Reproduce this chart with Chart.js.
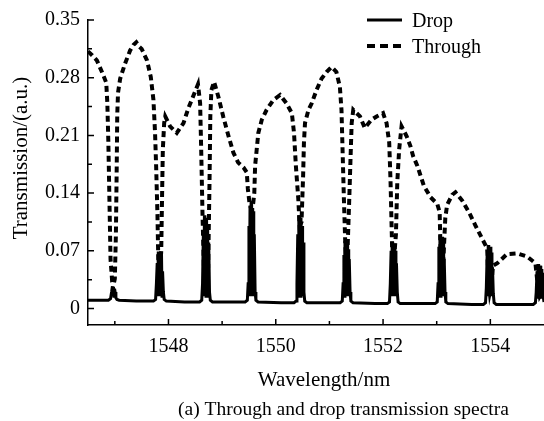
<!DOCTYPE html>
<html>
<head>
<meta charset="utf-8">
<script src="https://cdn.jsdelivr.net/npm/chart.js@4.4.1/dist/chart.umd.min.js"></script>
<style>
  html, body { margin: 0; padding: 0; background: #fff; }
  canvas { display: block; }
</style>
</head>
<body>
<canvas id="spectra" width="544" height="421"></canvas>
<script>
// tick values
const xTicks = [1548, 1550, 1552, 1554];
const xMinorTicks = [1547, 1549, 1551, 1553];
const yTicks = [0, 0.07, 0.14, 0.21, 0.28, 0.35];
const yMinorTicks = [0.035, 0.105, 0.175, 0.245, 0.315];

// drop port (solid); the noisy peak tops are kept as zigzags
const dropWavelength = [
  1546.50, 1546.70,
  1546.88, 1546.92, 1546.94, 1546.955, 1546.965, 1546.975, 1546.985, 1546.995, 1547.005, 1547.02, 1547.04, 1547.08,
  1547.40,
  1547.72, 1547.76, 1547.775, 1547.79, 1547.80, 1547.81, 1547.82, 1547.83, 1547.84, 1547.85, 1547.86, 1547.87, 1547.88, 1547.89, 1547.905, 1547.92, 1547.96,
  1548.30,
  1548.58, 1548.62, 1548.635, 1548.65, 1548.66, 1548.67, 1548.68, 1548.69, 1548.70, 1548.71, 1548.72, 1548.73, 1548.74, 1548.75, 1548.765, 1548.78, 1548.82,
  1549.20,
  1549.43, 1549.47, 1549.485, 1549.50, 1549.51, 1549.52, 1549.53, 1549.54, 1549.55, 1549.56, 1549.57, 1549.58, 1549.59, 1549.60, 1549.615, 1549.63, 1549.67,
  1550.10,
  1550.34, 1550.38, 1550.395, 1550.41, 1550.42, 1550.43, 1550.44, 1550.45, 1550.46, 1550.47, 1550.48, 1550.49, 1550.50, 1550.51, 1550.525, 1550.54, 1550.58,
  1551.00,
  1551.20, 1551.24, 1551.255, 1551.27, 1551.28, 1551.29, 1551.30, 1551.31, 1551.32, 1551.33, 1551.34, 1551.35, 1551.36, 1551.37, 1551.385, 1551.40, 1551.44,
  1551.85,
  1552.08, 1552.12, 1552.135, 1552.15, 1552.16, 1552.17, 1552.18, 1552.19, 1552.20, 1552.21, 1552.22, 1552.23, 1552.24, 1552.25, 1552.265, 1552.28, 1552.32,
  1552.75,
  1552.97, 1553.01, 1553.025, 1553.04, 1553.05, 1553.06, 1553.07, 1553.08, 1553.09, 1553.10, 1553.11, 1553.12, 1553.13, 1553.14, 1553.155, 1553.17, 1553.21,
  1553.65,
  1553.87, 1553.91, 1553.925, 1553.94, 1553.95, 1553.96, 1553.97, 1553.98, 1553.99, 1554.00, 1554.01, 1554.02, 1554.03, 1554.04, 1554.055, 1554.07, 1554.11,
  1554.55,
  1554.80, 1554.84, 1554.855, 1554.87, 1554.88, 1554.89, 1554.90, 1554.91, 1554.92, 1554.93, 1554.94, 1554.95, 1554.96, 1554.97, 1554.985, 1555.00
];
const dropValue = [
  0.010, 0.010,
  0.010, 0.012, 0.020, 0.027, 0.016, 0.026, 0.015, 0.024, 0.020, 0.013, 0.011, 0.010,
  0.009,
  0.009, 0.011, 0.030, 0.055, 0.015, 0.069, 0.015, 0.064, 0.015, 0.060, 0.015, 0.066, 0.015, 0.045, 0.020, 0.011, 0.009,
  0.008,
  0.008, 0.010, 0.030, 0.090, 0.015, 0.113, 0.015, 0.105, 0.015, 0.110, 0.015, 0.100, 0.015, 0.080, 0.020, 0.010, 0.008,
  0.008,
  0.008, 0.010, 0.030, 0.100, 0.015, 0.125, 0.015, 0.130, 0.015, 0.122, 0.015, 0.118, 0.015, 0.090, 0.020, 0.010, 0.008,
  0.007,
  0.007, 0.009, 0.030, 0.090, 0.015, 0.113, 0.015, 0.108, 0.015, 0.110, 0.015, 0.100, 0.015, 0.080, 0.020, 0.009, 0.007,
  0.007,
  0.007, 0.009, 0.030, 0.065, 0.015, 0.082, 0.015, 0.078, 0.015, 0.080, 0.015, 0.072, 0.015, 0.060, 0.020, 0.009, 0.007,
  0.006,
  0.006, 0.008, 0.030, 0.070, 0.015, 0.081, 0.015, 0.077, 0.015, 0.079, 0.015, 0.070, 0.015, 0.055, 0.020, 0.008, 0.006,
  0.006,
  0.006, 0.008, 0.030, 0.075, 0.015, 0.089, 0.015, 0.085, 0.015, 0.087, 0.015, 0.080, 0.015, 0.060, 0.020, 0.008, 0.006,
  0.005,
  0.005, 0.007, 0.025, 0.065, 0.015, 0.077, 0.015, 0.073, 0.015, 0.075, 0.015, 0.068, 0.015, 0.050, 0.018, 0.007, 0.005,
  0.005,
  0.005, 0.007, 0.020, 0.045, 0.012, 0.054, 0.012, 0.050, 0.012, 0.052, 0.012, 0.048, 0.012, 0.040, 0.015, 0.008
];

// through port (dashed)
const throughWavelength = [
  1546.50, 1546.58, 1546.665, 1546.76, 1546.84, 1546.86, 1546.88, 1546.90, 1546.92, 1546.95, 1546.98, 1547.00,
  1547.02, 1547.035, 1547.045, 1547.06, 1547.10, 1547.19, 1547.285, 1547.35, 1547.40, 1547.45, 1547.50, 1547.60,
  1547.67, 1547.72, 1547.75, 1547.77, 1547.795, 1547.81, 1547.84, 1547.865, 1547.875, 1547.895, 1547.92, 1547.94,
  1548.03, 1548.155, 1548.28, 1548.37, 1548.47, 1548.55, 1548.59, 1548.61, 1548.635, 1548.66, 1548.70, 1548.74,
  1548.765, 1548.78, 1548.80, 1548.85, 1548.93, 1549.02, 1549.12, 1549.21, 1549.30, 1549.40, 1549.46, 1549.48,
  1549.51, 1549.545, 1549.58, 1549.60, 1549.615, 1549.645, 1549.675, 1549.74, 1549.83, 1549.955, 1550.08, 1550.20,
  1550.30, 1550.34, 1550.375, 1550.42, 1550.445, 1550.48, 1550.51, 1550.525, 1550.545, 1550.61, 1550.67, 1550.76,
  1550.855, 1550.95, 1551.04, 1551.13, 1551.195, 1551.225, 1551.245, 1551.27, 1551.30, 1551.34, 1551.37, 1551.395,
  1551.415, 1551.445, 1551.57, 1551.66, 1551.785, 1551.88, 1552.00, 1552.065, 1552.115, 1552.14, 1552.17, 1552.21,
  1552.24, 1552.265, 1552.30, 1552.345, 1552.44, 1552.51, 1552.56, 1552.64, 1552.76, 1552.885, 1553.01, 1553.055,
  1553.075, 1553.10, 1553.125, 1553.16, 1553.195, 1553.29, 1553.35, 1553.475, 1553.60, 1553.72, 1553.845, 1553.94,
  1553.96, 1553.99, 1554.02, 1554.05, 1554.13, 1554.31, 1554.50, 1554.685, 1554.84, 1554.88, 1554.92, 1554.96, 1555.00
];
const throughValue = [
  0.312, 0.307, 0.301, 0.287, 0.274, 0.250, 0.200, 0.130, 0.060, 0.033, 0.030, 0.036,
  0.090, 0.170, 0.235, 0.262, 0.279, 0.297, 0.313, 0.320, 0.323, 0.318, 0.315, 0.301,
  0.281, 0.253, 0.213, 0.173, 0.113, 0.060, 0.040, 0.070, 0.113, 0.193, 0.225, 0.233,
  0.221, 0.213, 0.225, 0.243, 0.259, 0.272, 0.249, 0.193, 0.113, 0.050, 0.035, 0.050,
  0.153, 0.233, 0.265, 0.275, 0.257, 0.233, 0.209, 0.189, 0.177, 0.171, 0.165, 0.145,
  0.128, 0.120, 0.128, 0.140, 0.173, 0.193, 0.213, 0.229, 0.241, 0.253, 0.259, 0.249,
  0.237, 0.213, 0.173, 0.133, 0.100, 0.105, 0.161, 0.201, 0.225, 0.241, 0.249, 0.265,
  0.279, 0.287, 0.293, 0.287, 0.269, 0.241, 0.193, 0.133, 0.070, 0.075, 0.133, 0.185,
  0.225, 0.241, 0.233, 0.219, 0.229, 0.233, 0.237, 0.225, 0.201, 0.153, 0.070, 0.065,
  0.090, 0.153, 0.193, 0.221, 0.209, 0.197, 0.185, 0.173, 0.149, 0.135, 0.127, 0.117,
  0.060, 0.030, 0.060, 0.110, 0.126, 0.138, 0.141, 0.131, 0.117, 0.101, 0.085, 0.073,
  0.040, 0.020, 0.030, 0.052, 0.055, 0.066, 0.067, 0.063, 0.055, 0.030, 0.015, 0.020, 0.045
];

const FONT = 'Liberation Serif, Times New Roman, serif';
Chart.defaults.font.family = FONT;
Chart.defaults.color = '#000';

const toPoints = (xs, ys) => xs.map((x, i) => ({ x: x, y: ys[i] }));

// inward ticks, axis titles, caption and legend
const decorations = {
  id: 'decorations',
  afterDraw(chart) {
    const { ctx, chartArea: a, scales: { x, y } } = chart;
    ctx.save();
    ctx.strokeStyle = '#000';
    ctx.lineWidth = 1.5;
    ctx.beginPath();
    xTicks.forEach(v => { const p = x.getPixelForValue(v); ctx.moveTo(p, a.bottom); ctx.lineTo(p, a.bottom - 6); });
    xMinorTicks.forEach(v => { const p = x.getPixelForValue(v); ctx.moveTo(p, a.bottom); ctx.lineTo(p, a.bottom - 4); });
    yTicks.forEach(v => { const p = y.getPixelForValue(v); ctx.moveTo(a.left, p); ctx.lineTo(a.left + 6, p); });
    yMinorTicks.forEach(v => { const p = y.getPixelForValue(v); ctx.moveTo(a.left, p); ctx.lineTo(a.left + 4, p); });
    ctx.stroke();

    ctx.fillStyle = '#000';
    ctx.textBaseline = 'alphabetic';

    ctx.font = '21px ' + FONT;
    ctx.textAlign = 'center';
    ctx.fillText('Wavelength/nm', 324, 386);

    ctx.save();
    ctx.translate(27, 158);
    ctx.rotate(-Math.PI / 2);
    ctx.fillText('Transmission/(a.u.)', 0, 0);
    ctx.restore();

    ctx.font = '19.5px ' + FONT;
    ctx.textAlign = 'left';
    ctx.fillText('(a) Through and drop transmission spectra', 178, 415);

    // legend
    ctx.lineWidth = 3;
    ctx.beginPath();
    ctx.moveTo(367, 20);
    ctx.lineTo(402, 20);
    ctx.stroke();
    ctx.lineWidth = 4;
    ctx.setLineDash([8, 5]);
    ctx.beginPath();
    ctx.moveTo(367, 46);
    ctx.lineTo(403, 46);
    ctx.stroke();
    ctx.setLineDash([]);
    ctx.font = '20px ' + FONT;
    ctx.fillText('Drop', 412, 27);
    ctx.fillText('Through', 412, 53);
    ctx.restore();
  }
};

new Chart(document.getElementById('spectra'), {
  type: 'line',
  data: {
    datasets: [
      {
        label: 'Drop',
        data: toPoints(dropWavelength, dropValue),
        borderColor: '#000',
        borderWidth: 3,
        pointRadius: 0,
        tension: 0
      },
      {
        label: 'Through',
        data: toPoints(throughWavelength, throughValue),
        borderColor: '#000',
        borderWidth: 4,
        borderDash: [6, 4],
        pointRadius: 0,
        tension: 0
      }
    ]
  },
  options: {
    responsive: false,
    animation: false,
    devicePixelRatio: 1,
    layout: { padding: { top: 16, right: 0, left: 0, bottom: 0 } },
    plugins: { legend: { display: false }, tooltip: { enabled: false } },
    scales: {
      x: {
        type: 'linear',
        min: 1546.5,
        max: 1555,
        afterBuildTicks: s => { s.ticks = xTicks.map(v => ({ value: v })); },
        afterFit: s => { s.height = 96; },
        ticks: {
          font: { size: 20 },
          color: '#000',
          padding: 10,
          maxRotation: 0,
          autoSkip: false,
          callback: v => String(v)
        },
        grid: { display: false, drawTicks: false },
        border: { display: true, color: '#000', width: 1.5 }
      },
      y: {
        type: 'linear',
        min: -0.02,
        max: 0.35,
        afterBuildTicks: s => { s.ticks = yTicks.map(v => ({ value: v })); },
        afterFit: s => { s.width = 88; },
        ticks: {
          font: { size: 20 },
          color: '#000',
          padding: 8,
          autoSkip: false,
          callback: v => (v === 0 ? '0' : v.toFixed(2))
        },
        grid: { display: false, drawTicks: false },
        border: { display: true, color: '#000', width: 1.5 }
      }
    }
  },
  plugins: [decorations]
});
</script>
</body>
</html>
